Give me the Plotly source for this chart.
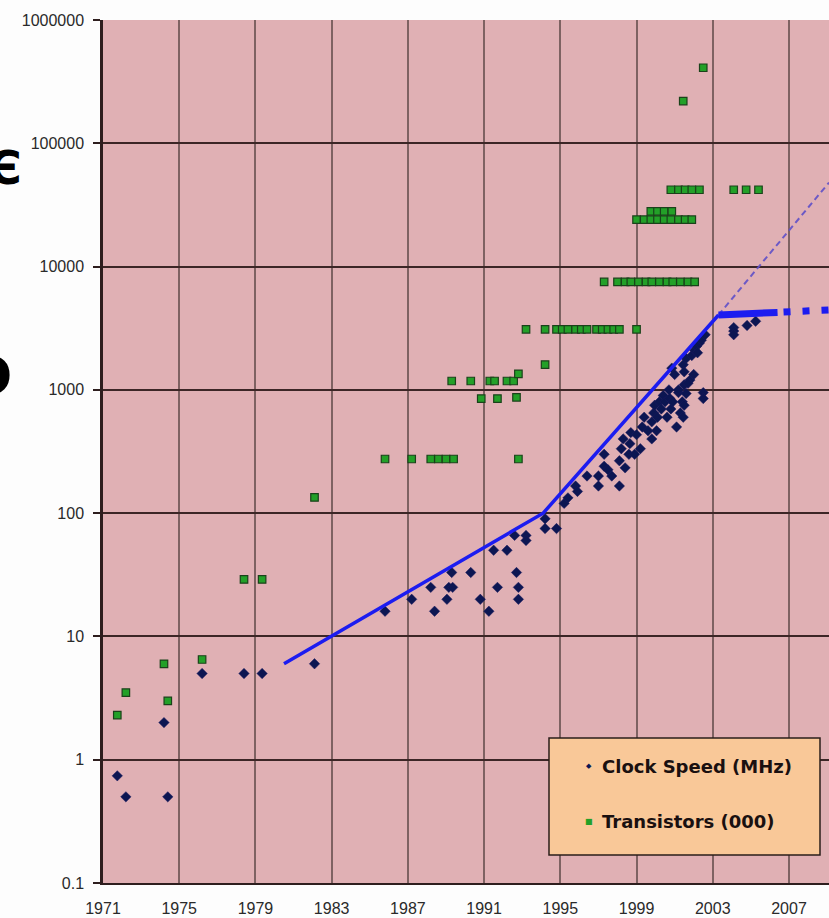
import plotly.graph_objects as go

# ---------------- data ----------------
clock_years = [1971.75, 1972.2, 1974.2, 1974.4, 1976.2, 1978.4, 1979.35, 1982.1,
               1985.8, 1987.2, 1988.2, 1988.4, 1989.05, 1989.15, 1989.35, 1989.3,
               1990.3, 1990.8, 1991.25, 1991.5, 1991.7, 1992.2, 1992.6, 1992.7,
               1992.8, 1992.8, 1993.2, 1993.2, 1994.2, 1994.2, 1994.8,
               1995.2, 1995.4, 1995.8, 1995.9, 1996.4, 1997.0, 1997.0, 1997.3,
               1997.3, 1997.5, 1997.7, 1998.1, 1998.1, 1998.2, 1998.3, 1998.4,
               1998.6, 1998.65, 1998.7, 1998.9, 1999.0, 1999.2, 1999.3, 1999.4,
               1999.6, 1999.8, 1999.8, 1999.9, 1999.95, 2000.05, 2000.1, 2000.2,
               2000.3, 2000.4, 2000.5, 2000.6, 2000.7, 2000.75, 2000.8, 2000.9,
               2001.1, 2001.2, 2001.3, 2001.4, 2001.45, 2001.5, 2001.6, 2001.5,
               2001.8, 2002.0, 2002.5, 2002.5, 2000.85, 2001.0, 2001.45, 2001.5,
               2001.6, 2001.9, 2002.05, 2002.15, 2002.3, 2002.2, 2001.7, 2001.2,
               2002.4, 2002.6, 2004.1, 2004.1, 2004.1, 2004.8, 2005.25]
clock_mhz = [0.74, 0.5, 2.0, 0.5, 5, 5, 5, 6,
             16, 20, 25, 16, 20, 25, 25, 33,
             33, 20, 16, 50, 25, 50, 66, 33,
             25, 20, 66, 60, 90, 75, 75,
             120, 133, 166, 150, 200, 200, 166, 300,
             240, 225, 200, 166, 266, 333, 400, 233,
             300, 366, 450, 300, 433, 333, 500, 600,
             466, 400, 550, 650, 750, 466, 600, 800,
             700, 900, 800, 600, 1000, 850, 700, 800,
             500, 950, 650, 800, 600, 1100, 933, 750,
             1200, 1333, 950, 850, 1500, 1333, 1600, 1400,
             1800, 1900, 2100, 2260, 2400, 2000, 1130, 1000,
             2530, 2800, 3200, 3000, 2800, 3330, 3600]

trans_years = [1971.75, 1972.2, 1974.2, 1974.4, 1976.2, 1978.4, 1979.35, 1982.1,
               1985.8, 1987.2, 1988.2, 1988.6, 1989.0, 1989.4, 1992.8,
               1989.3, 1990.3, 1991.3, 1991.55, 1992.2, 1992.55, 1992.8,
               1990.85, 1991.7, 1992.7,
               1993.2, 1994.2, 1994.2,
               1994.8, 1995.1, 1995.4, 1995.8, 1996.1, 1996.4, 1996.9, 1997.2,
               1997.5, 1997.8, 1998.1, 1999.0,
               1997.3, 1998.0, 1998.4, 1998.7, 1999.1, 1999.5, 1999.8, 2000.2,
               2000.6, 2000.9, 2001.3, 2001.7, 2002.05,
               1999.0, 1999.4, 1999.75, 2000.1, 2000.45, 2000.8, 2001.2, 2001.55, 2001.9,
               1999.75, 2000.1, 2000.45, 2000.85,
               2000.8, 2001.2, 2001.55, 2001.9, 2002.3, 2004.1, 2004.75, 2005.4,
               2001.45, 2002.5]
trans_k = [2.3, 3.5, 6, 3, 6.5, 29, 29, 134,
           275, 275, 275, 275, 275, 275, 275,
           1180, 1180, 1180, 1180, 1180, 1180, 1350,
           850, 850, 870,
           3100, 1600, 3100,
           3100, 3100, 3100, 3100, 3100, 3100, 3100, 3100,
           3100, 3100, 3100, 3100,
           7500, 7500, 7500, 7500, 7500, 7500, 7500, 7500,
           7500, 7500, 7500, 7500, 7500,
           24000, 24000, 24000, 24000, 24000, 24000, 24000, 24000, 24000,
           28000, 28000, 28000, 28000,
           42000, 42000, 42000, 42000, 42000, 42000, 42000, 42000,
           220000, 410000]

trend_years = [1980.5, 1994.1, 2003.3]
trend_vals = [6, 100, 4050]
plateau_years = [2003.3, 2006.4]
plateau_vals = [4050, 4250]
plateau_dot_years = [2006.4, 2009.1]
plateau_dot_vals = [4250, 4450]
projection_years = [2003.3, 2009.1]
projection_vals = [4050, 48000]

x_ticks = [1971, 1975, 1979, 1983, 1987, 1991, 1995, 1999, 2003, 2007]
y_ticks = [0.1, 1, 10, 100, 1000, 10000, 100000, 1000000]
y_tick_text = ["0.1", "1", "10", "100", "1000", "10000", "100000", "1000000"]

# ---------------- figure ----------------
W, H = 829, 918
ML, MR, MT, MB = 103, 0, 20, 35
PW, PH = W - ML - MR, H - MT - MB


def px(xp):
    return (xp - ML) / PW


def py(yp):
    return (H - MB - yp) / PH


fig = go.Figure()

fig.add_trace(go.Scatter(
    x=clock_years, y=clock_mhz, mode="markers", name="Clock Speed (MHz)",
    marker=dict(symbol="diamond", size=8, color="#0c1652",
                line=dict(width=0.5, color="#1a1a60")),
    showlegend=False))

fig.add_trace(go.Scatter(
    x=trans_years, y=trans_k, mode="markers", name="Transistors (000)",
    marker=dict(symbol="square", size=7.5, color="#23a028",
                line=dict(width=1.2, color="#1a421a")),
    showlegend=False))

fig.add_trace(go.Scatter(
    x=projection_years, y=projection_vals, mode="lines",
    line=dict(color="rgba(95,80,200,0.9)", width=2, dash="6px,4px"),
    showlegend=False))

fig.add_trace(go.Scatter(
    x=trend_years, y=trend_vals, mode="lines",
    line=dict(color="#1c1cf0", width=3.5), showlegend=False))

fig.add_trace(go.Scatter(
    x=plateau_years, y=plateau_vals, mode="lines",
    line=dict(color="#1c1cf0", width=7), showlegend=False))

fig.add_trace(go.Scatter(
    x=plateau_dot_years, y=plateau_dot_vals, mode="lines",
    line=dict(color="#1c1cf0", width=7, dash="0px,6px,7px,6px"),
    showlegend=False))

# legend box
fig.add_shape(type="rect", xref="paper", yref="paper",
              x0=px(549), x1=px(820), y0=py(855), y1=py(738),
              fillcolor="#f9c898", line=dict(color="#2a1e1a", width=1.5),
              layer="above")

legend_font = dict(family="DejaVu Sans", size=18, color="#1a1010")
fig.add_annotation(xref="paper", yref="paper", x=px(589), y=py(766),
                   text="◆", showarrow=False, xanchor="center", yanchor="middle",
                   font=dict(family="DejaVu Sans", size=7, color="#0c1652"))
fig.add_annotation(xref="paper", yref="paper", x=px(600), y=py(766),
                   text="<b>Clock Speed (MHz)</b>", showarrow=False,
                   xanchor="left", yanchor="middle", font=legend_font)
fig.add_annotation(xref="paper", yref="paper", x=px(589), y=py(821),
                   text="■", showarrow=False, xanchor="center", yanchor="middle",
                   font=dict(family="DejaVu Sans", size=8, color="#23a028"))
fig.add_annotation(xref="paper", yref="paper", x=px(600), y=py(821),
                   text="<b>Transistors (000)</b>", showarrow=False,
                   xanchor="left", yanchor="middle", font=legend_font)

# cropped big glyphs on the left edge
fig.add_annotation(xref="paper", yref="paper", x=px(-14), y=py(168),
                   text="<b>Є</b>", showarrow=False, xanchor="left", yanchor="middle",
                   font=dict(family="DejaVu Sans", size=46, color="#000000"))
fig.add_annotation(xref="paper", yref="paper", x=px(-10), y=py(376),
                   text="<b>O</b>", showarrow=False, xanchor="center", yanchor="middle",
                   font=dict(family="DejaVu Sans", size=52, color="#000000"))

fig.update_layout(
    width=W, height=H,
    margin=dict(l=ML, r=MR, t=MT, b=MB, pad=0, autoexpand=False),
    paper_bgcolor="#fdfdfd",
    plot_bgcolor="#e0b0b4",
    showlegend=False,
)

fig.update_xaxes(
    range=[1971, 2009.1], tickvals=x_ticks, ticktext=[str(v) for v in x_ticks],
    showgrid=True, gridcolor="#7e6262", gridwidth=1.5,
    showline=True, linecolor="#2e1e1e", linewidth=2,
    ticks="", ticklabelstandoff=10, automargin=False,
    tickfont=dict(family="Liberation Sans, Arial", size=16, color="#2a2a2a"),
    zeroline=False,
)
fig.update_yaxes(
    type="log", range=[-1, 6], tickvals=y_ticks, ticktext=y_tick_text,
    showgrid=True, gridcolor="#3c2626", gridwidth=2,
    showline=True, linecolor="#2e1e1e", linewidth=2.5,
    ticks="outside", ticklen=7, tickcolor="#2e1e1e", tickwidth=2,
    ticklabelstandoff=6, automargin=False,
    tickfont=dict(family="Liberation Sans, Arial", size=16, color="#2a2a2a"),
    zeroline=False,
)

fig.write_html("out.html",
               config={"displayModeBar": False},
               post_script="document.body.style.margin='0px';"
                           "document.body.style.overflow='hidden';")
